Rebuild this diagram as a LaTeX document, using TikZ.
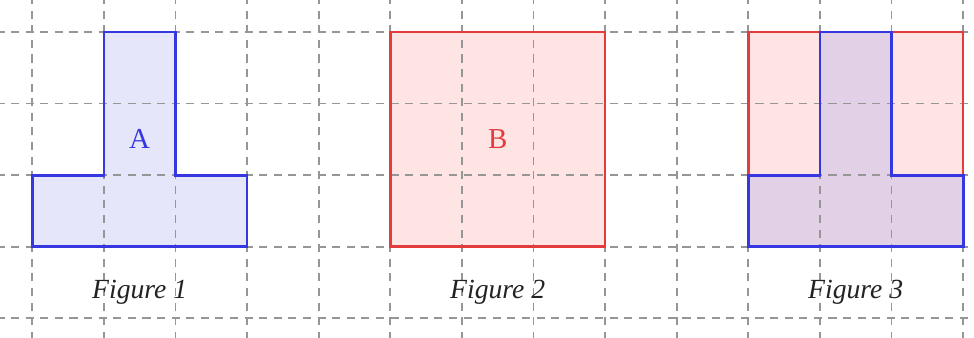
\documentclass[tikz,border=0pt]{standalone}
\usepackage{fontspec}
\setmainfont{Liberation Serif}
\definecolor{tblue}{RGB}{55,55,225}
\definecolor{tbluefill}{RGB}{230,230,250}
\definecolor{tred}{RGB}{228,60,60}
\definecolor{tredfill}{RGB}{255,228,228}
\definecolor{tmix}{RGB}{226,208,230}
\definecolor{tgrid}{RGB}{150,150,150}
\definecolor{tcap}{RGB}{35,35,35}
\begin{document}
\begin{tikzpicture}[x=1cm,y=1cm,
  gridline/.style={draw=tgrid, line width=0.75pt, dash pattern=on 3.2pt off 2.6pt},
  blueedge/.style={draw=tblue, line width=1.1pt, line join=miter},
  rededge/.style={draw=tred, line width=1pt, line join=miter},
  caption/.style={font=\fontsize{11}{13}\selectfont\itshape, text=tcap},
  letter/.style={font=\fontsize{11.5}{13}\selectfont}]
\useasboundingbox (-0.451,-0.261) rectangle (13.152,4.446);
% fills
\path[fill=tbluefill] (0,1) -- (3,1) -- (3,2) -- (2,2) -- (2,4) -- (1,4) -- (1,2) -- (0,2) -- cycle;
\path[fill=tredfill] (5,1) rectangle (8,4);
\path[fill=tredfill] (10,1) rectangle (13,4);
\path[fill=tmix] (10,1) -- (13,1) -- (13,2) -- (12,2) -- (12,4) -- (11,4) -- (11,2) -- (10,2) -- cycle;
% grid
\foreach \i in {0,...,13} \draw[gridline] (\i,-0.3) -- (\i,4.5);
\foreach \j in {0,...,4} \draw[gridline] (-0.5,\j) -- (13.2,\j);
% outlines
\draw[blueedge] (0,1) -- (3,1) -- (3,2) -- (2,2) -- (2,4) -- (1,4) -- (1,2) -- (0,2) -- cycle;
\draw[rededge] (5,1) rectangle (8,4);
\draw[rededge] (10,1) rectangle (13,4);
\draw[blueedge] (10,1) -- (13,1) -- (13,2) -- (12,2) -- (12,4) -- (11,4) -- (11,2) -- (10,2) -- cycle;
% labels
\node[letter, text=tblue] (labA) at (1.5,2.5) {A};
\node[letter, text=tred] (labB) at (6.5,2.5) {B};
\node[caption] (cap1) at (1.5,0.36) {Figure 1};
\node[caption] (cap2) at (6.5,0.36) {Figure 2};
\node[caption] (cap3) at (11.5,0.36) {Figure 3};
\end{tikzpicture}
\end{document}
